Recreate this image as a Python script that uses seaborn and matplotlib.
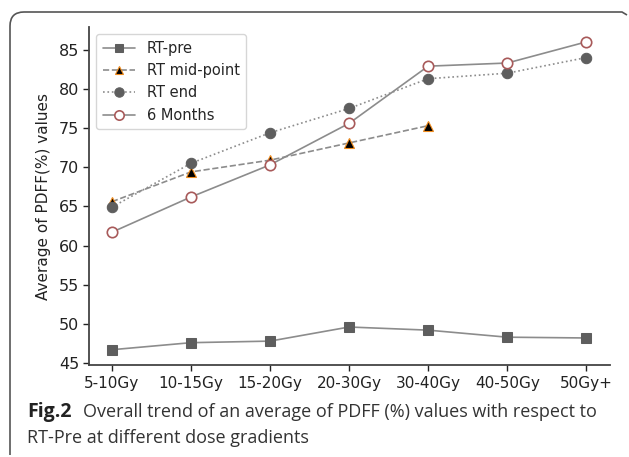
import matplotlib
matplotlib.use("Agg")
import matplotlib.pyplot as plt
from matplotlib.path import Path
from matplotlib.patches import PathPatch
import seaborn as sns
import numpy as np
import pandas as pd

doses = ["5-10Gy", "10-15Gy", "15-20Gy", "20-30Gy", "30-40Gy", "40-50Gy", "50Gy+"]
rt_pre = [46.7, 47.6, 47.8, 49.6, 49.2, 48.3, 48.2]
rt_mid = [65.6, 69.4, 70.9, 73.1, 75.3]
rt_end = [64.9, 70.5, 74.4, 77.5, 81.3, 82.0, 84.0]
six_months = [61.7, 66.2, 70.3, 75.6, 82.9, 83.3, 86.0]

sns.set_style("white")
plt.rcParams["font.family"] = ["DejaVu Sans"]

fig = plt.figure(figsize=(6.29, 4.57), dpi=100)
ax = fig.add_axes([89 / 629, 92 / 457, 521 / 629, 338 / 457])

pos = np.arange(len(doses))
line_col = "#8c8c8c"

sns.lineplot(x=pos, y=rt_pre, ax=ax, color=line_col, lw=1.2, ls="-",
             marker="s", markersize=7, markerfacecolor="#5e5e5e",
             markeredgecolor="#5e5e5e", label="RT-pre")
sns.lineplot(x=pos[:len(rt_mid)], y=rt_mid, ax=ax, color=line_col, lw=1.2, ls="--",
             marker="^", markersize=7, markerfacecolor="black",
             markeredgecolor="#f08c1e", markeredgewidth=0.8, label="RT mid-point")
sns.lineplot(x=pos, y=rt_end, ax=ax, color=line_col, lw=1.2, ls=":",
             marker="o", markersize=7.5, markerfacecolor="#5e5e5e",
             markeredgecolor="#5e5e5e", label="RT end")
sns.lineplot(x=pos, y=six_months, ax=ax, color=line_col, lw=1.2, ls="-",
             marker="o", markersize=7.5, markerfacecolor="white",
             markeredgecolor="#a85a5a", markeredgewidth=1.2, label="6 Months")

ax.set_xticks(pos, doses)
ax.set_yticks(np.arange(45, 86, 5))
ax.set_xlim(-0.29, 6.3)
ax.set_ylim(44.75, 87.9)
ax.set_xlabel("")
ax.set_ylabel("Average of PDFF(%) values", fontsize=11, color="#222222",
              labelpad=6)
ax.tick_params(axis="both", colors="#222222", length=4,
               width=1, direction="out", left=True, bottom=True)
ax.tick_params(axis="x", labelsize=11, pad=4)
ax.tick_params(axis="y", labelsize=11.5, pad=3)
for s in ["top", "right"]:
    ax.spines[s].set_visible(False)
for s in ["left", "bottom"]:
    ax.spines[s].set_color("#444444")
    ax.spines[s].set_linewidth(1.3)

leg = ax.legend(loc="upper left", fontsize=10.5, frameon=True,
                handlelength=2.2, borderpad=0.45, labelspacing=0.5,
                handletextpad=0.8, markerscale=0.9)
leg.get_frame().set_edgecolor("#cccccc")

# caption
fig.text(27 / 629, 1 - 412 / 457, "Fig.2", fontsize=14, fontweight="bold",
         family="Open Sans", color="#222222", va="center")
fig.text(83 / 629, 1 - 412 / 457,
         "Overall trend of an average of PDFF (%) values with respect to",
         fontsize=13, family="Open Sans", color="#333333", va="center")
fig.text(27 / 629, 1 - 438 / 457, "RT-Pre at different dose gradients",
         fontsize=13, family="Open Sans", color="#333333", va="center")

# rounded frame (top and left edges)
W, H = 629, 457
pts = [(10, 455), (10, 26), (10, 12), (24, 12), (622, 12), (627, 15)]
codes = [Path.MOVETO, Path.LINETO, Path.CURVE3, Path.CURVE3, Path.LINETO, Path.LINETO]
verts = [(x / W, 1 - y / H) for x, y in pts]
fig.patches.append(PathPatch(Path(verts, codes), transform=fig.transFigure,
                             fill=False, edgecolor="#555555", lw=1.2))

fig.savefig("out.png", dpi=100)
